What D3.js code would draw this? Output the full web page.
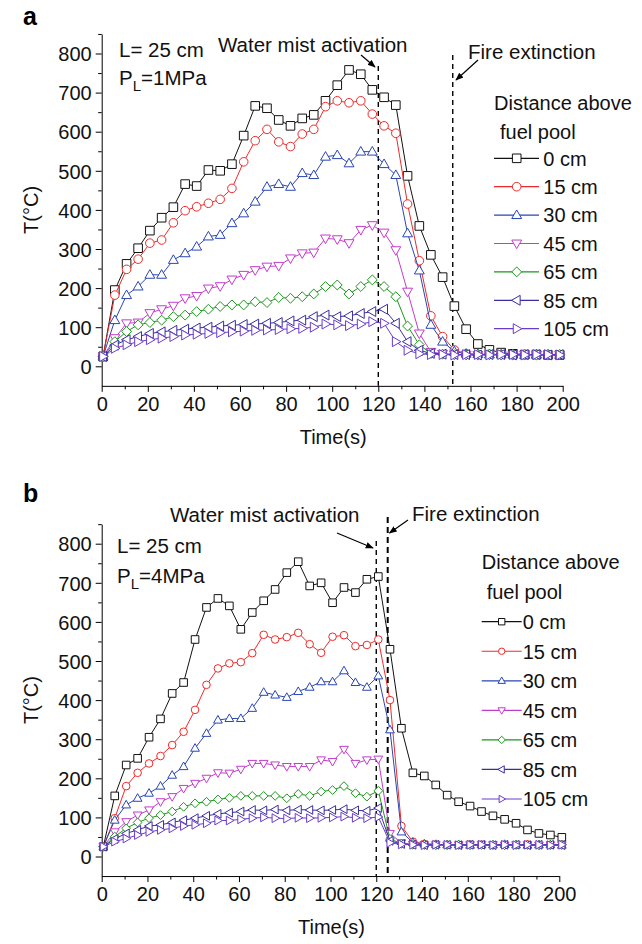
<!DOCTYPE html>
<html>
<head>
<meta charset="utf-8">
<script src="https://cdn.jsdelivr.net/npm/d3@7"></script>
<style>
  body { margin: 0; background: #fff; }
  svg { font-family: "Liberation Sans", Arial, sans-serif; }
</style>
</head>
<body>
<svg id="chart" width="642" height="944"></svg>
<script>
// ---- data ----
const DISTANCES = ["0 cm", "15 cm", "30 cm", "45 cm", "65 cm", "85 cm", "105 cm"];
const X_TICKS = [0, 20, 40, 60, 80, 100, 120, 140, 160, 180, 200];
const X_MINOR = [10, 30, 50, 70, 90, 110, 130, 150, 170, 190];
const Y_TICKS = [0, 100, 200, 300, 400, 500, 600, 700, 800];
const Y_MINOR = [50, 150, 250, 350, 450, 550, 650, 750, 850];

// panel a (P_L = 1 MPa)
const TIME_A = [0.6, 5.7, 10.8, 15.8, 20.9, 26.0, 31.1, 36.2, 41.2, 46.3, 51.4, 56.5, 61.6, 66.6, 71.7, 76.8,
  81.9, 87.0, 92.0, 97.1, 102.2, 107.3, 112.4, 117.4, 122.5, 127.6, 132.7, 137.8, 142.8, 147.9, 153.0,
  158.1, 163.2, 168.2, 173.3, 178.4, 183.5, 188.6, 193.6, 198.7];
const A_0 = [25, 195, 262, 302, 347, 380, 407, 466, 461, 502, 500, 517, 590, 666, 660, 630, 615, 634, 643, 679,
  719, 758, 747, 707, 688, 668, 487, 359, 285, 228, 154, 95, 57, 42, 35, 32, 30, 30, 29, 29];
const A_15 = [25, 182, 248, 274, 315, 323, 367, 398, 408, 417, 427, 455, 523, 577, 606, 574, 562, 594, 606, 664,
  679, 674, 679, 645, 615, 596, 415, 270, 129, 76, 42, 32, 30, 31, 30, 29, 30, 30, 29, 30];
const A_30 = [25, 118, 182, 204, 234, 234, 272, 289, 306, 332, 336, 366, 391, 421, 459, 466, 459, 494, 489, 536,
  540, 519, 549, 549, 517, 489, 340, 245, 106, 63, 38, 32, 31, 30, 30, 30, 29, 30, 30, 29];
const A_45 = [25, 72, 110, 112, 136, 146, 155, 174, 180, 199, 205, 222, 234, 246, 255, 257, 276, 289, 291, 327,
  325, 315, 349, 361, 342, 297, 191, 84, 37, 32, 30, 30, 29, 30, 30, 29, 30, 30, 29, 30];
const A_65 = [25, 63, 89, 106, 112, 118, 127, 131, 140, 146, 153, 157, 157, 165, 163, 176, 174, 178, 185, 204,
  208, 185, 204, 221, 204, 178, 103, 55, 33, 31, 30, 29, 30, 30, 29, 30, 30, 29, 30, 30];
const A_85 = [25, 54, 68, 76, 84, 88, 92, 95, 98, 100, 103, 105, 107, 108, 110, 112, 116, 118, 127, 131,
  127, 129, 135, 140, 146, 110, 63, 41, 33, 31, 30, 30, 29, 30, 30, 29, 30, 30, 29, 30];
const A_105 = [25, 46, 55, 63, 68, 72, 76, 80, 82, 84, 86, 88, 90, 92, 93, 94, 96, 97, 100, 108,
  106, 104, 108, 114, 110, 63, 41, 32, 30, 30, 29, 30, 30, 29, 30, 30, 29, 30, 30, 29];

// panel b (P_L = 4 MPa)
const TIME_B = [0.7, 5.7, 10.7, 15.7, 20.7, 25.7, 30.8, 35.8, 40.8, 45.8, 50.8, 55.8, 60.8, 65.8, 70.8, 75.8,
  80.9, 85.9, 90.9, 95.9, 100.9, 105.9, 110.9, 115.9, 120.9, 126.0, 131.0, 136.0, 141.0, 146.0, 151.0,
  156.0, 161.0, 166.0, 171.0, 176.1, 181.1, 186.1, 191.1, 196.1, 201.1];
const B_0 = [25, 155, 234, 251, 305, 352, 417, 445, 555, 637, 660, 641, 581, 624, 654, 683, 726, 754, 692, 700,
  649, 688, 675, 709, 716, 530, 328, 214, 206, 183, 157, 140, 129, 115, 104, 95, 85, 68, 59, 55, 49];
const B_15 = [25, 98, 180, 214, 238, 257, 285, 319, 375, 439, 481, 494, 497, 520, 567, 555, 561, 572, 543, 521,
  562, 566, 538, 541, 555, 400, 78, 38, 32, 31, 30, 30, 31, 30, 29, 30, 30, 31, 30, 29, 30];
const B_30 = [25, 93, 132, 149, 162, 180, 208, 230, 277, 315, 349, 353, 353, 379, 420, 413, 407, 422, 433, 447,
  447, 475, 445, 433, 462, 324, 63, 36, 32, 31, 30, 30, 29, 30, 30, 31, 30, 29, 30, 30, 29];
const B_45 = [25, 63, 89, 106, 119, 140, 153, 174, 187, 200, 214, 213, 223, 238, 238, 234, 230, 230, 230, 247,
  243, 274, 238, 247, 249, 59, 35, 31, 30, 30, 29, 30, 30, 31, 30, 29, 30, 30, 29, 30, 30];
const B_65 = [25, 51, 72, 87, 98, 106, 115, 127, 136, 140, 146, 150, 155, 155, 155, 155, 149, 160, 155, 166,
  170, 180, 162, 153, 168, 45, 33, 30, 30, 29, 30, 30, 29, 30, 30, 29, 30, 30, 29, 30, 30];
const B_85 = [25, 45, 59, 68, 78, 81, 87, 93, 98, 104, 109, 112, 115, 119, 118, 120, 118, 120, 119, 118,
  119, 121, 118, 117, 124, 40, 32, 30, 29, 30, 30, 29, 30, 30, 29, 30, 30, 29, 30, 30, 29];
const B_105 = [25, 38, 46, 55, 63, 68, 72, 78, 81, 85, 92, 92, 95, 98, 100, 98, 97, 99, 98, 99,
  100, 102, 99, 98, 101, 35, 31, 30, 29, 30, 30, 29, 30, 30, 29, 30, 29, 30, 30, 29, 30];

// ---- styles ----
const COLORS = ["#111111", "#ee2a2a", "#2a46b4", "#c23ccb", "#1d961d", "#3a2e9e", "#6a3ccc"];
const SHAPES = ["square", "circle", "up", "down", "diamond", "left", "right"];

function markerPath(shape, r) {
  switch (shape) {
    case "square": return `M${-r},${-r}H${r}V${r}H${-r}Z`;
    case "circle": return `M${r},0A${r},${r} 0 1,1 ${-r},0A${r},${r} 0 1,1 ${r},0Z`;
    case "up": return `M0,${-r * 1.2}L${r * 1.15},${r * 0.8}L${-r * 1.15},${r * 0.8}Z`;
    case "down": return `M0,${r * 1.2}L${r * 1.15},${-r * 0.8}L${-r * 1.15},${-r * 0.8}Z`;
    case "diamond": return `M0,${-r * 1.15}L${r * 1.15},0L0,${r * 1.15}L${-r * 1.15},0Z`;
    case "left": return `M${-r * 1.2},0L${r * 0.8},${-r * 1.15}L${r * 0.8},${r * 1.15}Z`;
    case "right": return `M${r * 1.2},0L${-r * 0.8},${-r * 1.15}L${-r * 0.8},${r * 1.15}Z`;
  }
}

const svg = d3.select("#chart");

const defs = svg.append("defs");
defs.append("marker")
    .attr("id", "arrow")
    .attr("viewBox", "0 0 10 10")
    .attr("refX", 9).attr("refY", 5)
    .attr("markerWidth", 8).attr("markerHeight", 8)
    .attr("markerUnits", "userSpaceOnUse")
    .attr("orient", "auto")
  .append("path")
    .attr("d", "M0,1L10,5L0,9Z")
    .attr("fill", "#000");

const panels = [
  {
    label: "a", labelY: 25, time: TIME_A, series: [A_0, A_15, A_30, A_45, A_65, A_85, A_105],
    xRange: [101.7, 562.7], yZero: 366.3, pressure: "=1MPa", markR: 4.3,
    textL: [119, 56.5], textP: [119, 85],
    events: [
      {t: 120, top: 66, dash: "5,4", w: 1.4},
      {t: 152.3, top: 55, dash: "5,4", w: 1.4}
    ],
    notes: [
      {text: "Water mist activation", x: 218, y: 52, from: [361, 55], to: [375, 67]},
      {text: "Fire extinction", x: 468, y: 58.5, from: [478, 60], to: [456, 80]}
    ],
    legend: {x0: 494, x1: 539, mx: 516.7, tx: 543.3, y0: 158.3, dy: 28.4, head: [494, 109.5], head2: [500, 138.5], markR: 4.3}
  },
  {
    label: "b", labelY: 502, time: TIME_B, series: [B_0, B_15, B_30, B_45, B_65, B_85, B_105],
    xRange: [101.7, 559.3], yZero: 856.5, pressure: "=4MPa", markR: 3.8,
    textL: [117, 553], textP: [117, 583],
    events: [
      {t: 120, top: 541, dash: "5,4", w: 1.4},
      {t: 125, top: 517, dash: "6,4", w: 2}
    ],
    notes: [
      {text: "Water mist activation", x: 170, y: 522, from: [337, 533], to: [373, 548]},
      {text: "Fire extinction", x: 412, y: 520.5, from: [408, 520], to: [389.5, 533]}
    ],
    legend: {x0: 481.7, x1: 521.7, mx: 501.7, tx: 522.7, y0: 621.7, dy: 29.55, head: [481.7, 568.7], head2: [486.7, 598.7], markR: 3.2}
  }
];

panels.forEach(drawPanel);

function drawPanel(p) {
  const x = d3.scaleLinear().domain([0, 200]).range(p.xRange);
  const y = d3.scaleLinear().domain([-50, 850]).range([p.yZero + 19.55, p.yZero - 332.35]);
  const g = svg.append("g");

  // panel letter
  g.append("text").attr("x", 23).attr("y", p.labelY)
    .attr("font-size", 25).attr("font-weight", "bold").text(p.label);

  // axes
  const yAxis = g.append("g").attr("transform", `translate(${x(0)},0)`)
    .call(d3.axisLeft(y).tickValues(Y_TICKS).tickSize(6).tickSizeOuter(0).tickPadding(4).tickFormat(d3.format("d")));
  g.append("g").attr("transform", `translate(${x(0)},0)`)
    .call(d3.axisLeft(y).tickValues(Y_MINOR).tickSize(3.5).tickSizeOuter(0).tickFormat(""))
    .select(".domain").remove();
  const xAxis = g.append("g").attr("transform", `translate(0,${y(-50)})`)
    .call(d3.axisBottom(x).tickValues(X_TICKS).tickSize(6).tickSizeOuter(0).tickPadding(5));
  g.append("g").attr("transform", `translate(0,${y(-50)})`)
    .call(d3.axisBottom(x).tickValues(X_MINOR).tickSize(3.5).tickSizeOuter(0).tickFormat(""))
    .select(".domain").remove();
  g.selectAll(".tick line, .domain").attr("stroke", "#000").attr("stroke-width", 1);
  yAxis.selectAll("text").attr("font-size", 20).attr("fill", "#111").attr("dy", "0.36em");
  xAxis.selectAll("text").attr("font-size", 20).attr("fill", "#111");
  g.selectAll(".tick text").attr("font-family", "'Liberation Sans', Arial, sans-serif");

  // axis titles
  g.append("text").attr("transform", `translate(38,${y(400)}) rotate(-90)`)
    .attr("text-anchor", "middle").attr("font-size", 20).attr("fill", "#111").text("T(°C)");
  g.append("text").attr("x", x(100) + 1).attr("y", y(-50) + 58)
    .attr("text-anchor", "middle").attr("font-size", 20).attr("fill", "#111").text("Time(s)");

  // event lines
  p.events.forEach(e => {
    g.append("line").attr("x1", x(e.t)).attr("x2", x(e.t))
      .attr("y1", e.top).attr("y2", y(-50))
      .attr("stroke", "#000").attr("stroke-width", e.w).attr("stroke-dasharray", e.dash);
  });

  // data series
  const line = d3.line().x((d, i) => x(p.time[i])).y(d => y(d));
  p.series.forEach((vals, s) => {
    const sg = g.append("g");
    sg.append("path").attr("d", line(vals)).attr("fill", "none")
      .attr("stroke", COLORS[s]).attr("stroke-width", 1);
    sg.selectAll("path.m").data(vals).join("path").attr("class", "m")
      .attr("transform", (d, i) => `translate(${x(p.time[i])},${y(d)})`)
      .attr("d", markerPath(SHAPES[s], p.markR))
      .attr("fill", "#fff").attr("stroke", COLORS[s]).attr("stroke-width", 1);
  });

  // text notes
  g.append("text").attr("x", p.textL[0]).attr("y", p.textL[1]).attr("font-size", 20.5).attr("fill", "#111").text("L= 25 cm");
  const pt = g.append("text").attr("x", p.textP[0]).attr("y", p.textP[1]).attr("font-size", 20.5).attr("fill", "#111");
  pt.append("tspan").text("P");
  pt.append("tspan").attr("font-size", 15).attr("dy", 6).text("L");
  pt.append("tspan").attr("dy", -6).text(p.pressure);

  p.notes.forEach(n => {
    g.append("text").attr("x", n.x).attr("y", n.y).attr("font-size", 20.5).attr("fill", "#111").text(n.text);
    g.append("line").attr("x1", n.from[0]).attr("y1", n.from[1]).attr("x2", n.to[0]).attr("y2", n.to[1])
      .attr("stroke", "#000").attr("stroke-width", 1.2).attr("marker-end", "url(#arrow)");
  });

  // legend
  const L = p.legend;
  g.append("text").attr("x", L.head[0]).attr("y", L.head[1]).attr("font-size", 20).attr("fill", "#111").text("Distance above");
  g.append("text").attr("x", L.head2[0]).attr("y", L.head2[1]).attr("font-size", 20).attr("fill", "#111").text("fuel pool");
  DISTANCES.forEach((name, s) => {
    const ly = L.y0 + L.dy * s;
    g.append("line").attr("x1", L.x0).attr("x2", L.x1).attr("y1", ly).attr("y2", ly)
      .attr("stroke", COLORS[s]).attr("stroke-width", 1.2);
    g.append("path").attr("transform", `translate(${L.mx},${ly})`)
      .attr("d", markerPath(SHAPES[s], L.markR))
      .attr("fill", "#fff").attr("stroke", COLORS[s]).attr("stroke-width", 1);
    g.append("text").attr("x", L.tx).attr("y", ly + 7.3).attr("font-size", 20).attr("fill", "#111").text(name);
  });
}
</script>
</body>
</html>
